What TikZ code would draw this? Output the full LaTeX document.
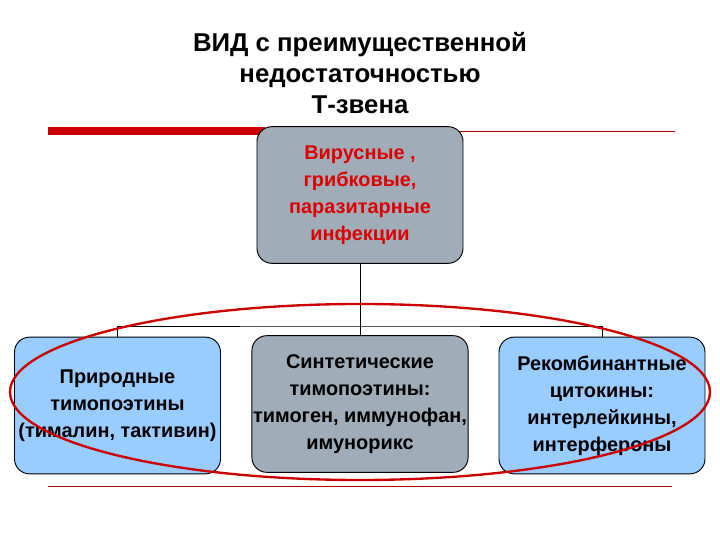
\documentclass[tikz,border=0pt]{standalone}
\usepackage{fontspec}
\setmainfont{Liberation Sans}
\begin{document}
\begin{tikzpicture}[x=0.03cm,y=-0.03cm,
 box/.style={draw=black,line width=0.8pt,rounded corners=0.45cm,minimum width=6.18cm,minimum height=4.1cm,align=center,font=\bfseries\fontsize{17}{23}\selectfont,inner sep=1pt},
 conn/.style={line width=0.8pt}]
\useasboundingbox[fill=white] (0,0) rectangle (720,540);
\node[font=\bfseries\fontsize{22}{26.5}\selectfont,align=center] (title) at (360,73) {ВИД с преимущественной\\недостаточностью\\Т-звена};
\coordinate (r1) at (48,131); \coordinate (r2) at (265,131); \coordinate (r3) at (675,131);
\draw[red!80!black,line width=7pt] (r1)--(r2);
\draw[red!70!black,line width=0.6pt] (r2)--(r3);
\coordinate (b1) at (48,486); \coordinate (b2) at (672,486);
\draw[red!70!black,line width=0.6pt] (b1)--(b2);
\node[box,fill={rgb,255:red,160;green,172;blue,184},text={rgb,255:red,220;green,0;blue,0}] (top) at (360,195) {Вирусные ,\\грибковые,\\паразитарные\\инфекции};
\node[box,fill={rgb,255:red,153;green,204;blue,255}] (left) at (117.5,405.5) {Природные\\тимопоэтины\\(тималин, тактивин)};
\node[box,fill={rgb,255:red,160;green,172;blue,184}] (mid) at (360,404) {Синтетические\\тимопоэтины:\\тимоген, иммунофан,\\имунорикс};
\node[box,fill={rgb,255:red,153;green,204;blue,255}] (right) at (602,405.5) {Рекомбинантные\\цитокины:\\интерлейкины,\\интерфероны};
\coordinate (hb) at (360,326);
\draw[conn] (top.south) -- (mid.north);
\draw[conn] (left.north) |- (hb) -| (right.north);
\draw[red!80!black,line width=2pt] (360,392) ellipse [x radius=350, y radius=88];
\end{tikzpicture}
\end{document}
